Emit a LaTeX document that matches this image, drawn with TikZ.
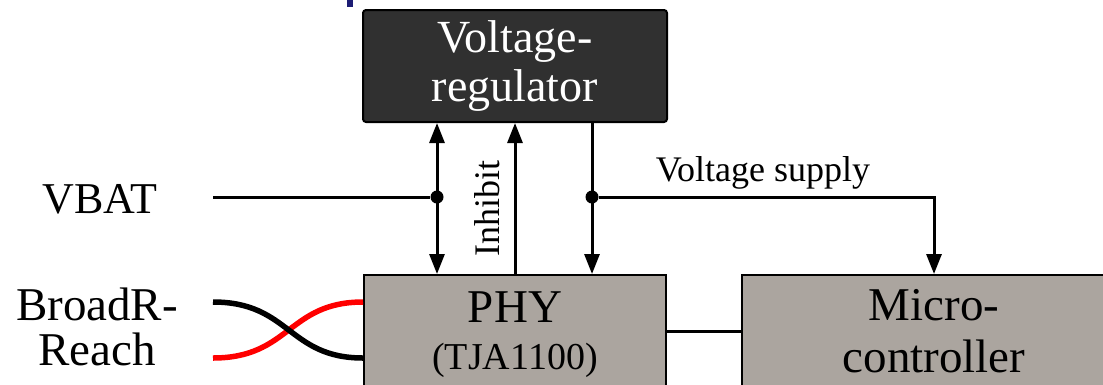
\documentclass[tikz,border=0pt]{standalone}
\usepackage{fontspec}
\setmainfont{Liberation Serif}
\usetikzlibrary{arrows.meta}

\definecolor{regfill}{HTML}{303030}
\definecolor{boxfill}{HTML}{ABA59F}
\definecolor{pairred}{HTML}{FF0000}
\definecolor{markblue}{HTML}{1C1C74}

\tikzset{
	block/.style={draw=black, line width=2pt, inner sep=0pt, align=center},
	wire/.style={line width=3pt},
	pair/.style={line width=5.5pt},
	junction/.style={circle, fill=black, inner sep=0pt, minimum size=13pt},
	biglabel/.style={font=\fontsize{46}{49}\selectfont},
	smalllabel/.style={font=\fontsize{36}{40}\selectfont},
}

\begin{document}
\begin{tikzpicture}[x=1pt, y=-1pt, >={Triangle[length=20pt,width=15pt]}]

	% Rahmen
	\useasboundingbox (0,0) rectangle (1103,384);
	\clip (0,0) rectangle (1103,384);
	\fill[markblue] (347,0) rectangle (353,7);

	% Bloecke
	\node[block, fill=regfill, text=white, rounded corners=3pt,
		minimum width=304pt, minimum height=112pt, biglabel] (reg) at (515,66) {Voltage-\\regulator};
	\node[block, fill=boxfill, minimum width=302pt, minimum height=120pt,
		font=\fontsize{47}{47}\selectfont] (phy) at (515,335) {PHY\\{\fontsize{38}{47}\selectfont (TJA1100)}};
	\node[block, fill=boxfill, minimum width=384pt, minimum height=112pt,
		font=\fontsize{47}{52}\selectfont] (mcu) at (934,331) {Micro-\\controller};

	% Knoten
	\coordinate (vbatin) at (213,197);
	\node[junction] (vbatdot) at (437,197) {};
	\node[junction] (supdot) at (592,197) {};

	% VBAT
	\node[font=\fontsize{44}{48}\selectfont, anchor=base] (vbat) at (100,213) {VBAT};
	\draw[wire] (vbatin) -- (vbatdot);
	\draw[wire,<->] (reg.south -| vbatdot) -- (phy.north -| vbatdot);

	% Inhibit
	\draw[wire,->] (phy.north) -- (reg.south);
	\node[smalllabel, rotate=90] (inhibit) at (487,208) {Inhibit};

	% Versorgung
	\draw[wire,->] (reg.south -| supdot) -- (phy.north -| supdot);
	\draw[wire,->] (supdot) -| (mcu.north);
	\node[smalllabel, anchor=base] (supply) at (763,181) {Voltage supply};

	% PHY - Mikrocontroller
	\draw[wire] (phy.east |- mcu.west) -- (mcu.west);

	% BroadR-Reach Leitungspaar
	\node[font=\fontsize{47}{45}\selectfont, align=center, inner sep=0pt] (brr) at (97,327) {BroadR-\\Reach};
	\coordinate (brtop) at (213,302);
	\coordinate (brbot) at (213,358);
	\draw[pair, pairred] (brbot) .. controls (290,358) and (288,302) .. (phy.west |- brtop);
	\draw[pair] (brtop) .. controls (290,302) and (288,358) .. (phy.west |- brbot);

\end{tikzpicture}
\end{document}
